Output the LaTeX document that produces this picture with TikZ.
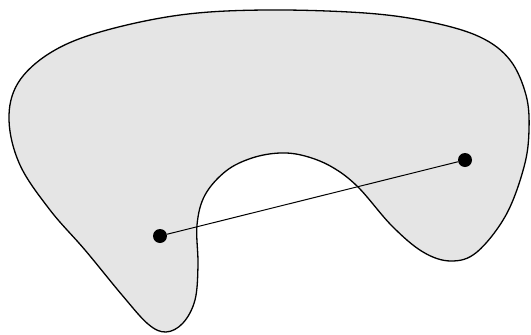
\documentclass[tikz,border=0pt]{standalone}
\begin{document}
\begin{tikzpicture}[x=1pt,y=-1pt,
  blob/.style={draw=black,line width=1.3pt,fill=black!10},
  dot/.style={circle,fill=black,inner sep=0pt,minimum size=14pt},
  seg/.style={line width=1pt,black}]
\useasboundingbox (0,0) rectangle (531,335);
\draw[blob] plot[smooth cycle,tension=0.6] coordinates {
 (265,10) (365,13) (430,22) (480,37) (510,60) (526,95) (529,130) (524,167)
 (506,215) (477,252) (451,261) (423,252) (392,226) (358,187) (332,167)
 (305,156) (280,153) (252,158) (226,171) (205,195) (197,225) (198,265)
 (195,300) (183,323) (166,332) (148,324) (122,295) (85,250) (50,210) (20,165) (9,120)
 (18,83) (50,53) (100,32) (180,15)};
\node[dot] (a) at (160,236) {};
\node[dot] (b) at (465,160) {};
\draw[seg] (a) -- (b);
\end{tikzpicture}
\end{document}
